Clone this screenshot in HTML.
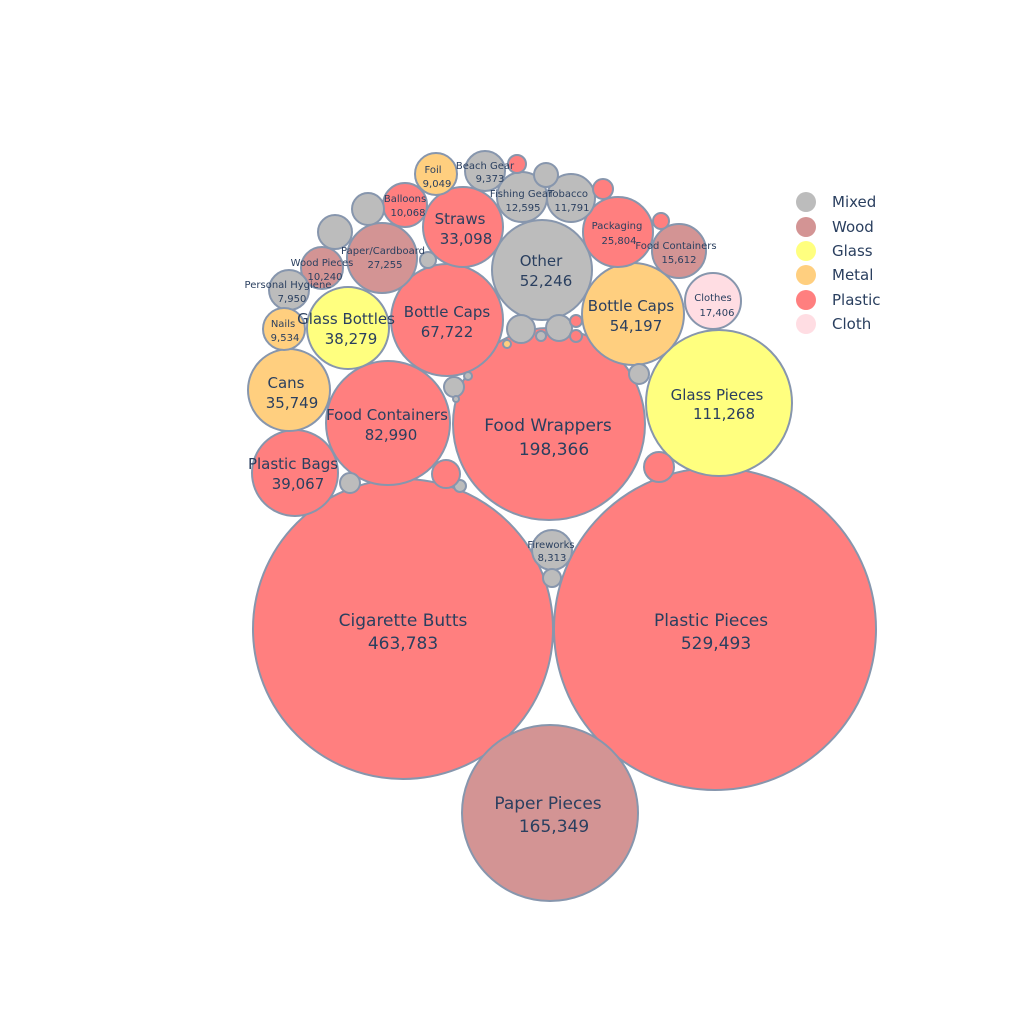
<!DOCTYPE html>
<html><head><meta charset="utf-8"><style>
html,body{margin:0;padding:0;background:#fff;width:1024px;height:1024px;overflow:hidden}
svg text{font-family:"DejaVu Sans","Liberation Sans",sans-serif;fill:#2a3f5f;text-anchor:middle}
circle.b{stroke:#8796ad;stroke-width:2}
</style></head><body>
<svg width="1024" height="1024" viewBox="0 0 1024 1024">
<g>
<circle class="b" cx="403" cy="629" r="150" fill="#ff7f7f"/>
<circle class="b" cx="715" cy="629" r="161" fill="#ff7f7f"/>
<circle class="b" cx="550" cy="813" r="88" fill="#d39494"/>
<circle class="b" cx="549" cy="424" r="96" fill="#ff7f7f"/>
<circle class="b" cx="719" cy="403" r="73" fill="#ffff7f"/>
<circle class="b" cx="388" cy="423" r="62" fill="#ff7f7f"/>
<circle class="b" cx="295" cy="473" r="43" fill="#ff7f7f"/>
<circle class="b" cx="289" cy="390" r="41" fill="#ffcf7f"/>
<circle class="b" cx="348" cy="328" r="41" fill="#ffff7f"/>
<circle class="b" cx="447" cy="320" r="56" fill="#ff7f7f"/>
<circle class="b" cx="542" cy="270" r="50" fill="#bcbcbc"/>
<circle class="b" cx="633" cy="314" r="51" fill="#ffcf7f"/>
<circle class="b" cx="713" cy="301" r="28" fill="#ffdde3"/>
<circle class="b" cx="463" cy="227" r="40" fill="#ff7f7f"/>
<circle class="b" cx="618" cy="232" r="35" fill="#ff7f7f"/>
<circle class="b" cx="679" cy="251" r="27" fill="#d39494"/>
<circle class="b" cx="382" cy="258" r="35" fill="#d39494"/>
<circle class="b" cx="322" cy="268" r="21" fill="#d39494"/>
<circle class="b" cx="289" cy="290" r="20" fill="#bcbcbc"/>
<circle class="b" cx="284" cy="329" r="21" fill="#ffcf7f"/>
<circle class="b" cx="405" cy="205" r="22" fill="#ff7f7f"/>
<circle class="b" cx="436" cy="174" r="21" fill="#ffcf7f"/>
<circle class="b" cx="485" cy="171" r="20" fill="#bcbcbc"/>
<circle class="b" cx="522" cy="197" r="25" fill="#bcbcbc"/>
<circle class="b" cx="571" cy="198" r="24" fill="#bcbcbc"/>
<circle class="b" cx="552" cy="550" r="20" fill="#bcbcbc"/>
<circle class="b" cx="335" cy="232" r="17" fill="#bcbcbc"/>
<circle class="b" cx="368" cy="209" r="16" fill="#bcbcbc"/>
<circle class="b" cx="546" cy="175" r="12" fill="#bcbcbc"/>
<circle class="b" cx="428" cy="260" r="8" fill="#bcbcbc"/>
<circle class="b" cx="521" cy="329" r="14" fill="#bcbcbc"/>
<circle class="b" cx="559" cy="328" r="13" fill="#bcbcbc"/>
<circle class="b" cx="541" cy="336" r="5" fill="#bcbcbc"/>
<circle class="b" cx="454" cy="387" r="10" fill="#bcbcbc"/>
<circle class="b" cx="468" cy="376" r="4" fill="#bcbcbc"/>
<circle class="b" cx="456" cy="399" r="3" fill="#bcbcbc"/>
<circle class="b" cx="639" cy="374" r="10" fill="#bcbcbc"/>
<circle class="b" cx="350" cy="483" r="10" fill="#bcbcbc"/>
<circle class="b" cx="460" cy="486" r="6" fill="#bcbcbc"/>
<circle class="b" cx="552" cy="578" r="9" fill="#bcbcbc"/>
<circle class="b" cx="517" cy="164" r="9" fill="#ff7f7f"/>
<circle class="b" cx="603" cy="189" r="10" fill="#ff7f7f"/>
<circle class="b" cx="661" cy="221" r="8" fill="#ff7f7f"/>
<circle class="b" cx="576" cy="321" r="6" fill="#ff7f7f"/>
<circle class="b" cx="576" cy="336" r="6" fill="#ff7f7f"/>
<circle class="b" cx="446" cy="474" r="14" fill="#ff7f7f"/>
<circle class="b" cx="659" cy="467" r="15" fill="#ff7f7f"/>
<circle class="b" cx="507" cy="344" r="4" fill="#ffcf7f"/>
</g>
<g font-size="17">
<text x="403" y="626">Cigarette Butts</text><text x="403" y="649">463,783</text>
<text x="711" y="626">Plastic Pieces</text><text x="716" y="649">529,493</text>
<text x="548" y="809">Paper Pieces</text><text x="554" y="832">165,349</text>
<text x="548" y="431">Food Wrappers</text><text x="554" y="455">198,366</text>
</g>
<g font-size="15">
<text x="717" y="400">Glass Pieces</text><text x="724" y="419">111,268</text>
<text x="387" y="420">Food Containers</text><text x="391" y="440">82,990</text>
<text x="293" y="469">Plastic Bags</text><text x="298" y="489">39,067</text>
<text x="286" y="388">Cans</text><text x="292" y="408">35,749</text>
<text x="346" y="324">Glass Bottles</text><text x="351" y="344">38,279</text>
<text x="447" y="317">Bottle Caps</text><text x="447" y="337">67,722</text>
<text x="541" y="266">Other</text><text x="546" y="286">52,246</text>
<text x="631" y="311">Bottle Caps</text><text x="636" y="331">54,197</text>
<text x="460" y="224">Straws</text><text x="466" y="244">33,098</text>
</g>
<g font-size="10">
<text x="713" y="301">Clothes</text><text x="717" y="316">17,406</text>
<text x="617" y="229">Packaging</text><text x="619" y="244">25,804</text>
<text x="676" y="249">Food Containers</text><text x="679" y="263">15,612</text>
<text x="383" y="254">Paper/Cardboard</text><text x="385" y="268">27,255</text>
<text x="322" y="266">Wood Pieces</text><text x="325" y="280">10,240</text>
<text x="288" y="288">Personal Hygiene</text><text x="292" y="302">7,950</text>
<text x="283" y="327">Nails</text><text x="285" y="341">9,534</text>
<text x="405" y="202">Balloons</text><text x="408" y="216">10,068</text>
<text x="433" y="173">Foil</text><text x="437" y="187">9,049</text>
<text x="485" y="169">Beach Gear</text><text x="490" y="182">9,373</text>
<text x="521" y="197">Fishing Gear</text><text x="523" y="211">12,595</text>
<text x="568" y="197">Tobacco</text><text x="572" y="211">11,791</text>
<text x="551" y="548">Fireworks</text><text x="552" y="561">8,313</text>
</g>
<g font-size="15">
<circle cx="806" cy="202" r="10" fill="#bcbcbc"/><text x="832" y="207" style="text-anchor:start">Mixed</text>
<circle cx="806" cy="227" r="10" fill="#d39494"/><text x="832" y="232" style="text-anchor:start">Wood</text>
<circle cx="806" cy="251" r="10" fill="#ffff7f"/><text x="832" y="256" style="text-anchor:start">Glass</text>
<circle cx="806" cy="275" r="10" fill="#ffcf7f"/><text x="832" y="280" style="text-anchor:start">Metal</text>
<circle cx="806" cy="300" r="10" fill="#ff7f7f"/><text x="832" y="305" style="text-anchor:start">Plastic</text>
<circle cx="806" cy="324" r="10" fill="#ffdde3"/><text x="832" y="329" style="text-anchor:start">Cloth</text>
</g>
</svg>
</body></html>
